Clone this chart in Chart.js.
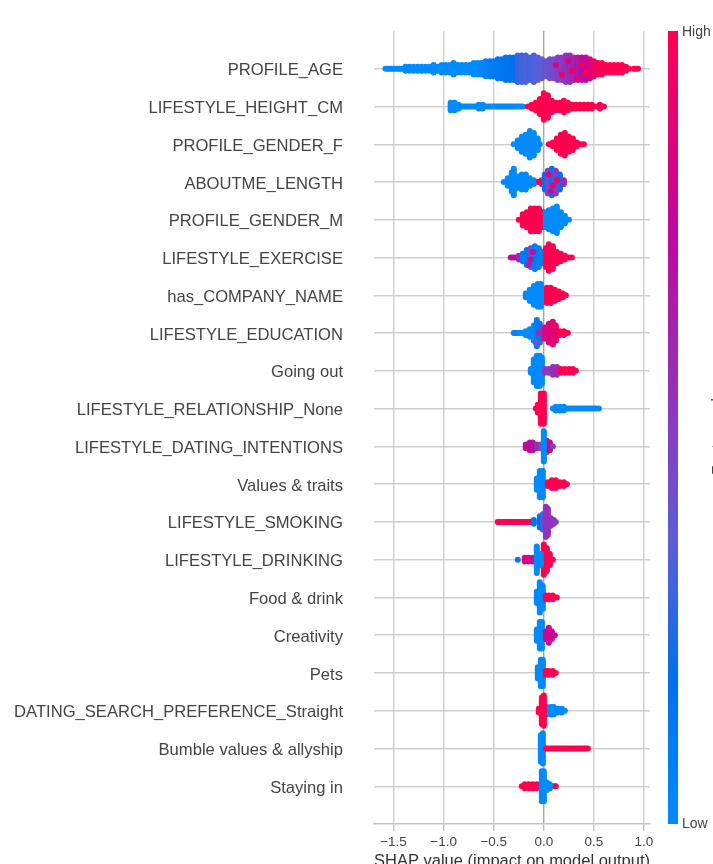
<!DOCTYPE html>
<html>
<head>
<meta charset="utf-8">
<title>SHAP summary</title>
<script src="https://cdn.jsdelivr.net/npm/chart.js@4"></script>
<style>
  html, body { margin: 0; padding: 0; background: #fff; overflow: hidden; }
  canvas { display: block; }
</style>
</head>
<body>
<canvas id="shapChart" width="713" height="864"></canvas>
<script>
const categories = [
  'PROFILE_AGE', 'LIFESTYLE_HEIGHT_CM', 'PROFILE_GENDER_F', 'ABOUTME_LENGTH',
  'PROFILE_GENDER_M', 'LIFESTYLE_EXERCISE', 'has_COMPANY_NAME', 'LIFESTYLE_EDUCATION',
  'Going out', 'LIFESTYLE_RELATIONSHIP_None', 'LIFESTYLE_DATING_INTENTIONS', 'Values & traits',
  'LIFESTYLE_SMOKING', 'LIFESTYLE_DRINKING', 'Food & drink', 'Creativity', 'Pets',
  'DATING_SEARCH_PREFERENCE_Straight', 'Bumble values & allyship', 'Staying in'
];
const xTicks = [-1.5, -1.0, -0.5, 0.0, 0.5, 1.0];
const xTickLabels = ['\u22121.5', '\u22121.0', '\u22120.5', '0.0', '0.5', '1.0'];

// Each swarm column: [shap value, dots stacked either side of the row, feature value 0-1]
const profileAge = [
  [-1.58,0,0],[-1.56,0,0],[-1.54,0,0],[-1.52,0,0],[-1.50,0,0],[-1.48,0,0],[-1.46,0,0],[-1.44,0,0],[-1.42,0,0],[-1.40,0,0],
  [-1.38,1,0],[-1.34,1,0],[-1.30,1,0],[-1.26,1,0],
  [-1.22,1,0],[-1.18,1,0],[-1.14,1,0],[-1.10,2,0],[-1.06,1,0],[-1.02,2,0],[-0.98,2,0],[-0.94,2,0],[-0.90,3,0],
  [-0.86,2,0],[-0.82,2,0],[-0.78,2,0],[-0.74,2,0],[-0.70,3,0],[-0.66,3,0],[-0.62,3,0.02],[-0.58,4,0.05],
  [-0.54,4,0.08],[-0.50,4,0.1],[-0.46,5,0.12],[-0.42,5,0.14],[-0.38,6,0.15],[-0.34,6,0.16],[-0.30,6,0.18],
  [-0.26,7,0.28],[-0.22,7,0.3],[-0.18,7,0.32],[-0.14,6,0.3],[-0.10,7,0.33],[-0.06,6,0.35],[-0.02,5,0.36],
  [0.02,4,0.4],[0.06,5,0.42],[0.10,5,0.45],[0.14,6,0.5],[0.18,6,0.52],[0.22,7,0.55],[0.26,7,0.58],[0.30,6,0.62],
  [0.34,6,0.68],[0.38,6,0.72],[0.42,6,0.76],[0.46,5,0.85],[0.50,4,0.92],[0.54,3,0.97],[0.58,3,1],[0.62,2,1],
  [0.66,2,1],[0.70,2,1],[0.74,2,1],[0.78,2,1],[0.82,1,1],[0.85,0,1],[0.90,0,1],[0.92,0,1],[0.94,0,1]
];
const lifestyleHeight = [
  [-0.93,2,0],[-0.89,2,0],[-0.85,1,0],[-0.83,0,0],[-0.81,0,0],[-0.79,0,0],[-0.77,0,0],[-0.75,0,0],[-0.73,0,0],[-0.71,0,0],[-0.69,0,0],[-0.67,0,0],
  [-0.65,1,0],[-0.61,1,0],
  [-0.59,0,0],[-0.57,0,0],[-0.55,0,0],[-0.53,0,0],[-0.51,0,0],[-0.49,0,0],[-0.47,0,0],[-0.45,0,0],[-0.43,0,0],[-0.41,0,0],[-0.39,0,0],[-0.37,0,0],
  [-0.35,0,0],[-0.33,0,0],[-0.31,0,0],[-0.29,0,0],[-0.27,0,0],[-0.25,0,0],[-0.23,0,0],
  [-0.21,0,0],[-0.16,0,1],[-0.14,0,1],[-0.12,1,1],[-0.08,2,1],[-0.04,4,1],[0.0,7,1],[0.04,6,1],[0.08,3,1],[0.12,2,1],
  [0.16,2,1],[0.20,3,1],[0.24,2,1],[0.28,1,1],[0.32,1,1],[0.36,1,1],[0.40,1,1],[0.44,1,1],[0.48,1,1],
  [0.52,0,1],[0.56,1,1],[0.58,0,1],[0.60,0,1]
];
const profileGenderF = [
  [-0.30,0,0],[-0.26,2,0],[-0.22,4,0],[-0.18,5,0],[-0.14,7,0],[-0.10,6,0],[-0.06,3,0],[-0.04,0,0],
  [0.05,0,1],[0.09,1,1],[0.13,3,1],[0.17,5,1],[0.21,6,1],[0.25,4,1],[0.29,3,1],[0.33,1,1],[0.37,0,1],[0.40,0,1]
];
const aboutmeLength = [
  [-0.40,0,0],[-0.36,2,0],[-0.32,5,0],[-0.30,7,0],[-0.26,3,0],[-0.22,4,0],[-0.18,4,0],[-0.14,2,0],[-0.10,1,0],
  [-0.06,0,0],[-0.05,0,1],[-0.02,1,1],[0.01,4,0.2],[0.04,6,0.45],[0.08,7,0.15],[0.12,6,0.5],[0.16,4,0.2],[0.20,1,0.6]
];
const profileGenderM = [
  [-0.25,0,1],[-0.21,3,1],[-0.17,4,1],[-0.13,6,1],[-0.09,6,1],[-0.05,6,1],[-0.01,4,1],
  [0.02,4,0],[0.05,5,0],[0.09,6,0],[0.13,7,0],[0.17,4,0],[0.21,2,0],[0.25,0,0]
];
const lifestyleExercise = [
  [-0.33,0,0.7],[-0.31,0,0.7],[-0.29,0,0.75],[-0.25,1,0.6],[-0.21,2,0.1],[-0.17,4,0.15],[-0.13,5,0.45],[-0.09,6,0.1],[-0.05,5,0.08],
  [-0.01,3,0.05],[0.02,5,1],[0.05,7,1],[0.09,6,1],[0.13,3,1],[0.17,2,1],[0.21,1,1],[0.25,0,1],[0.28,0,1]
];
const hasCompanyName = [
  [-0.18,1,0],[-0.14,3,0],[-0.10,5,0],[-0.06,6,0],[-0.03,6,0],
  [0.03,4,1],[0.07,4,1],[0.11,3,1],[0.15,2,1],[0.19,1,1],[0.22,0,1]
];
const lifestyleEducation = [
  [-0.30,0,0.05],[-0.28,0,0.05],[-0.26,0,0.05],[-0.24,0,0],[-0.22,0,0],[-0.18,1,0],[-0.14,2,0],[-0.10,4,0],[-0.07,7,0.1],[-0.04,5,0.25],
  [0.01,3,0.85],[0.05,5,0.85],[0.09,6,0.88],[0.12,4,0.9],[0.16,1,1],[0.20,1,1],[0.22,0,1],[0.24,0,1]
];
const goingOut = [
  [-0.13,1,0],[-0.10,6,0],[-0.07,8,0],[-0.04,8,0],[-0.02,7,0],
  [0.01,1,0.5],[0.05,1,0.5],[0.09,2,0.55],[0.13,2,0.6],[0.17,1,1],[0.21,1,1],[0.25,1,1],[0.29,1,1],[0.32,0,1]
];
const lifestyleRelationship = [
  [-0.08,0,1],[-0.06,2,1],[-0.03,8,1],[0.0,8,1],
  [0.09,0,0],[0.12,1,0],[0.16,1,0],[0.20,1,0],[0.22,0,0],[0.24,0,0],[0.26,0,0],[0.28,0,0],[0.30,0,0],[0.32,0,0],[0.34,0,0],[0.36,0,0],
  [0.38,0,0],[0.40,0,0],[0.42,0,0],[0.44,0,0],[0.46,0,0],[0.48,0,0],[0.50,0,0],[0.52,0,0],[0.55,0,0]
];
const lifestyleDating = [
  [-0.18,1,0.75],[-0.14,2,0.72],[-0.11,2,0.7],[-0.07,1,0.6],[-0.03,1,0.45],[0.03,3,1],[0.06,2,0.8],[0.09,0,0.5],
  [0.0,8,0]
];
const valuesTraits = [
  [-0.07,3,0],[-0.04,7,0],[-0.01,7,0],[0.04,1,1],[0.08,2,1],[0.12,2,1],[0.16,1,1],[0.20,1,1],[0.23,0,1]
];
const lifestyleSmoking = [
  [-0.46,0,1],[-0.44,0,1],[-0.42,0,1],[-0.40,0,1],[-0.38,0,1],[-0.36,0,1],[-0.34,0,1],[-0.32,0,1],[-0.30,0,1],[-0.28,0,1],[-0.26,0,1],
  [-0.24,0,1],[-0.22,0,1],[-0.20,0,1],[-0.18,0,1],[-0.16,0,1],[-0.14,0,1],[-0.12,0,1],
  [-0.10,1,0.15],[-0.04,3,0.2],[-0.01,4,0.3],[0.02,8,0.55],[0.04,7,0.55],[0.07,2,0.55],[0.10,1,0.55],[0.12,0,0.5]
];
const lifestyleDrinking = [
  [-0.26,0,0.12],[-0.19,1,0.85],[-0.15,1,0.85],[-0.11,1,0.8],[0.0,8,1],[0.03,6,1],[0.06,3,1],[0.09,0,1],
  [-0.07,7,0],[-0.03,3,0]
];
const foodDrink = [
  [-0.07,3,0],[-0.04,8,0],[-0.01,6,0],[0.02,1,1],[0.05,1,1],[0.09,1,1],[0.11,0,1],[0.13,0,1]
];
const creativity = [
  [-0.07,3,0],[-0.04,7,0],[-0.02,7,0],[0.02,2,0.8],[0.05,4,0.8],[0.08,2,0.8],[0.11,0,0.8]
];
const pets = [
  [-0.06,3,0],[-0.03,7,0],[-0.01,7,0],[0.02,1,1],[0.05,1,1],[0.09,1,1],[0.12,0,1]
];
const datingSearch = [
  [0.03,2,0],[0.07,2,0],[0.10,2,0],[0.14,1,0],[0.18,1,0],[0.21,0,0],[-0.05,1,1],[-0.02,7,1],[0.0,8,1]
];
const bumbleValues = [
  [-0.03,7,0],[-0.01,8,0],[0.02,0,1],[0.04,0,1],[0.06,0,1],[0.08,0,1],[0.10,0,1],[0.12,0,1],[0.14,0,1],[0.16,0,1],[0.18,0,1],[0.20,0,1],
  [0.22,0,1],[0.24,0,1],[0.26,0,1],[0.28,0,1],[0.30,0,1],[0.32,0,1],[0.34,0,1],[0.36,0,1],[0.38,0,1],[0.40,0,1],[0.42,0,1],[0.44,0,1]
];
const stayingIn = [
  [-0.22,0,1],[-0.19,1,1],[-0.15,1,1],[-0.11,1,1],[-0.07,1,1],[-0.04,0,1],[0.09,0,1],[0.11,0,1],[0.12,0,1],
  [-0.02,8,0],[0.0,8,0],[0.03,2,0],[0.06,1,0]
];

const swarms = [
  profileAge, lifestyleHeight, profileGenderF, aboutmeLength, profileGenderM, lifestyleExercise,
  hasCompanyName, lifestyleEducation, goingOut, lifestyleRelationship, lifestyleDating, valuesTraits,
  lifestyleSmoking, lifestyleDrinking, foodDrink, creativity, pets, datingSearch, bumbleValues, stayingIn
];

// Red dots scattered over the purple part of the mixed rows: [row, shap value, dots off the row, feature value]
const speckles = [
  [0,0.12,-2,0.85],[0,0.18,3,0.9],[0,0.24,-4,0.85],[0,0.28,1,0.95],[0,0.33,5,0.9],[0,0.38,-2,0.95],[0,0.42,2,1],
  [3,0.05,-4,0.85],[3,0.09,2,0.9],[3,0.13,-1,0.9],[3,0.07,5,0.7],[5,-0.13,1,0.7],[5,-0.11,-3,0.7],[5,-0.15,4,0.65],
  [7,-0.05,0,0.6],[7,-0.08,5,0.35]
];

// Colour bar stops, low to high
const toneStops = [0, 0.18, 0.35, 0.5, 0.75, 1];
const toneColors = ['#008bfb', '#0070ee', '#5a5fd6', '#8a3cc0', '#c0089c', '#ff0051'];

const STACK_STEP = 0.05; // one stacked dot, in row units
const LABEL_FONT = "'Liberation Sans', Arial, sans-serif";

function hexToRgb(hex) {
  return [1, 3, 5].map(i => parseInt(hex.slice(i, i + 2), 16));
}

function toneColor(t) {
  let i = 0;
  while (i < toneStops.length - 2 && t > toneStops[i + 1]) i++;
  const f = (t - toneStops[i]) / (toneStops[i + 1] - toneStops[i]);
  const a = hexToRgb(toneColors[i]);
  const b = hexToRgb(toneColors[i + 1]);
  const c = a.map((v, k) => Math.round(v + (b[k] - v) * f));
  return `rgb(${c[0]},${c[1]},${c[2]})`;
}

// One scatter dataset per feature, each column stacked around its row
function buildDataset(columns, row) {
  const data = [];
  const colors = [];
  columns.forEach(([x, n, tone]) => {
    for (let j = -n; j <= n; j++) {
      data.push({ x, y: row + j * STACK_STEP });
      colors.push(toneColor(tone));
    }
  });
  speckles.filter(s => s[0] === row).forEach(([, x, off, tone]) => {
    data.push({ x, y: row + off * STACK_STEP });
    colors.push(toneColor(tone));
  });
  return {
    data,
    backgroundColor: colors,
    pointRadius: 3,
    pointBorderWidth: 0,
    showLine: false
  };
}

// Colour bar and its labels sit outside the plot area
const colorBarPlugin = {
  id: 'colorBar',
  afterDraw(chart) {
    const { ctx, chartArea } = chart;
    const grad = ctx.createLinearGradient(0, chartArea.bottom, 0, chartArea.top);
    toneStops.forEach((s, i) => grad.addColorStop(s, toneColors[i]));
    ctx.save();
    ctx.fillStyle = grad;
    ctx.fillRect(668, chartArea.top, 10, chartArea.bottom - chartArea.top);
    ctx.fillStyle = '#444';
    ctx.font = `14px ${LABEL_FONT}`;
    ctx.textBaseline = 'middle';
    ctx.fillText('High', 682, 32);
    ctx.fillText('Low', 682, 824);
    ctx.translate(710, 428);
    ctx.rotate(-Math.PI / 2);
    ctx.font = `15.4px ${LABEL_FONT}`;
    ctx.textAlign = 'center';
    ctx.textBaseline = 'top';
    ctx.fillText('Feature value', 0, 0);
    ctx.restore();
  }
};

new Chart(document.getElementById('shapChart'), {
  type: 'scatter',
  data: { datasets: swarms.map(buildDataset) },
  plugins: [colorBarPlugin],
  options: {
    responsive: false,
    animation: false,
    layout: { padding: { top: 31, right: 63 } },
    plugins: { legend: { display: false }, tooltip: { enabled: false } },
    scales: {
      x: {
        type: 'linear',
        min: -1.695,
        max: 1.06,
        afterBuildTicks: axis => { axis.ticks = xTicks.map(value => ({ value })); },
        afterFit: axis => { axis.height = 40; axis.paddingLeft = 0; axis.paddingRight = 0; },
        ticks: {
          autoSkip: false,
          maxRotation: 0,
          padding: 3,
          color: '#444',
          font: { family: LABEL_FONT, size: 13.5 },
          callback: value => xTickLabels[xTicks.indexOf(value)]
        },
        grid: {
          color: ctx => (ctx.tick && ctx.tick.value === 0 ? '#a6a6a6' : '#cfcfcf'),
          lineWidth: 1.4,
          tickColor: '#bbb',
          tickLength: 7
        },
        border: { display: true, color: '#c4c4c4', width: 1.4 },
        title: {
          display: true,
          text: 'SHAP value (impact on model output)',
          color: '#333',
          font: { family: LABEL_FONT, size: 16.8, lineHeight: 1 },
          padding: { top: 0, bottom: -6 }
        }
      },
      y: {
        type: 'linear',
        reverse: true,
        min: -1,
        max: 20,
        afterBuildTicks: axis => { axis.ticks = categories.map((_, i) => ({ value: i })); },
        afterFit: axis => { axis.width = 374; axis.paddingTop = 0; axis.paddingBottom = 0; },
        ticks: {
          autoSkip: false,
          padding: 31,
          labelOffset: 2,
          color: '#444',
          font: { family: LABEL_FONT, size: 16.6 },
          callback: value => categories[value]
        },
        grid: { color: '#cfcfcf', lineWidth: 1.4, tickLength: 0 },
        border: { display: false }
      }
    }
  }
});
</script>
</body>
</html>
